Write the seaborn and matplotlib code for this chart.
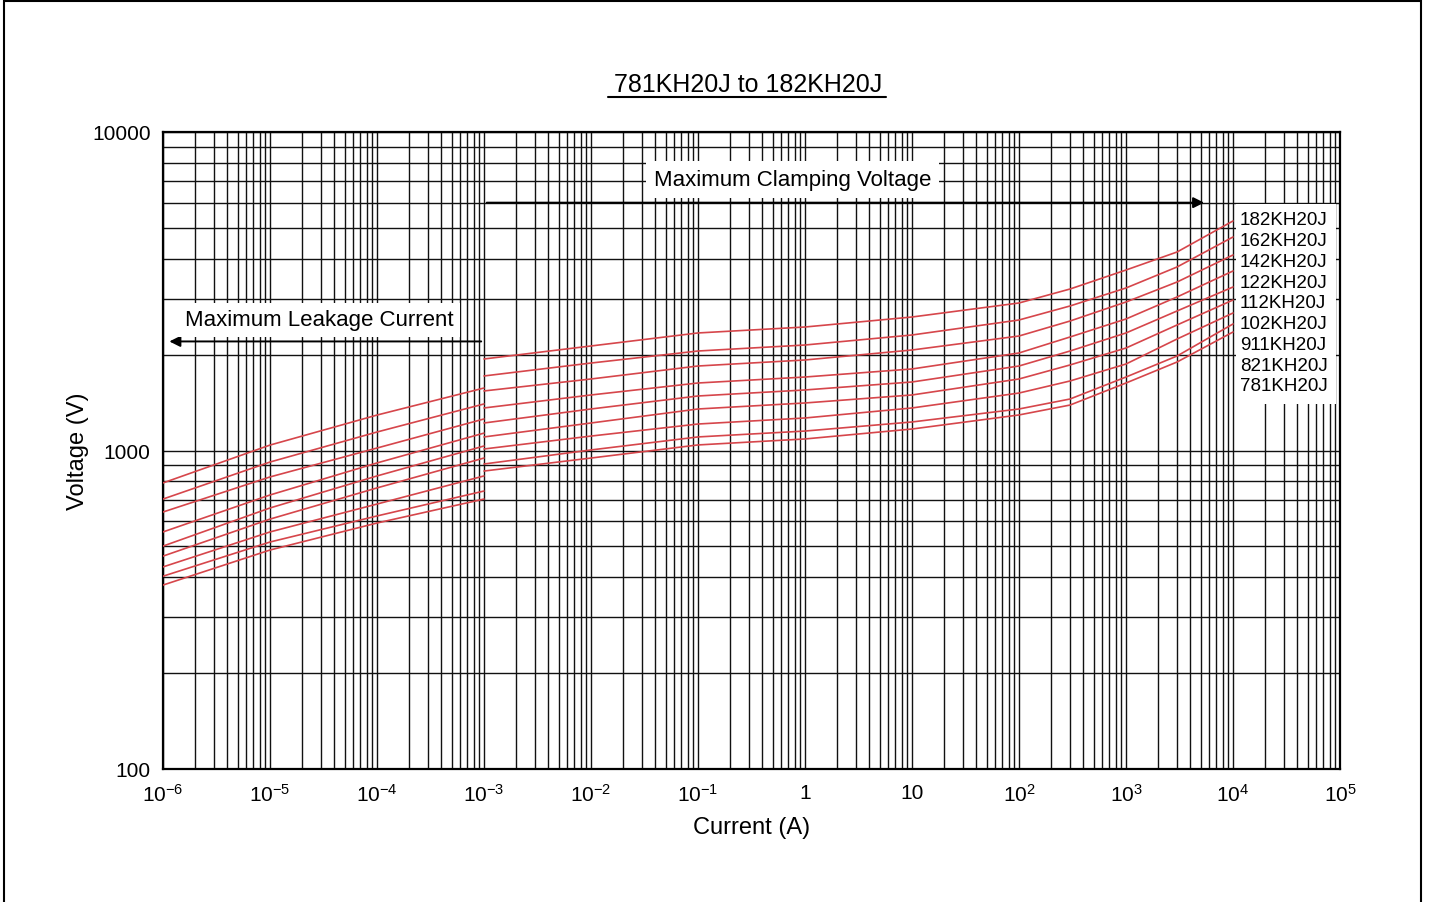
import numpy as np
import pandas as pd
import seaborn as sns
import matplotlib.pyplot as plt
from matplotlib.patches import Rectangle
from matplotlib.lines import Line2D
from matplotlib.ticker import LogLocator, FuncFormatter, FixedLocator, NullFormatter

# Modelos (de arriba hacia abajo)
models = ["182KH20J", "162KH20J", "142KH20J", "122KH20J", "112KH20J",
          "102KH20J", "911KH20J", "821KH20J", "781KH20J"]

# Corriente de fuga maxima (A)
leak_current = [1e-6, 1e-5, 1e-4, 1e-3]
leak_182 = [791, 1040, 1292, 1571]
leak_162 = [704, 920, 1143, 1400]
leak_142 = [641, 826, 1018, 1256]
leak_122 = [555, 725, 914, 1134]
leak_112 = [501, 660, 832, 1033]
leak_102 = [466, 609, 763, 947]
leak_911 = [431, 555, 679, 832]
leak_821 = [403, 516, 623, 746]
leak_781 = [378, 487, 592, 704]

# Tension maxima de recorte
clamp_current = [1e-3, 1e-2, 1e-1, 1, 10, 100, 300, 1000, 3000, 1e4]
clamp_182 = [1938, 2129, 2339, 2442, 2625, 2905, 3214, 3687, 4200, 5256]
clamp_162 = [1714, 1882, 2053, 2144, 2305, 2569, 2843, 3238, 3769, 4681]
clamp_142 = [1538, 1677, 1842, 1924, 2068, 2288, 2550, 2926, 3381, 4110]
clamp_122 = [1360, 1494, 1629, 1701, 1803, 2024, 2272, 2588, 3034, 3661]
clamp_112 = [1220, 1350, 1483, 1549, 1641, 1842, 2053, 2339, 2742, 3261]
clamp_102 = [1103, 1220, 1350, 1410, 1494, 1677, 1856, 2098, 2478, 2968]
clamp_911 = [1011, 1110, 1211, 1265, 1360, 1515, 1653, 1869, 2239, 2702]
clamp_821 = [907, 1004, 1103, 1151, 1229, 1350, 1451, 1701, 1980, 2496]
clamp_781 = [862, 947, 1041, 1087, 1168, 1293, 1389, 1629, 1896, 2355]

x_ticks = [1e-6, 1e-5, 1e-4, 1e-3, 1e-2, 1e-1, 1, 10, 1e2, 1e3, 1e4, 1e5]
y_ticks = [100, 1000, 10000]

leak_all = [leak_182, leak_162, leak_142, leak_122, leak_112,
            leak_102, leak_911, leak_821, leak_781]
clamp_all = [clamp_182, clamp_162, clamp_142, clamp_122, clamp_112,
             clamp_102, clamp_911, clamp_821, clamp_781]

# Armar el DataFrame largo
rows = []
for m, lv, cv in zip(models, leak_all, clamp_all):
    for i, v in zip(leak_current, lv):
        rows.append({"model": m, "seg": m + "_leak", "current": i, "voltage": v})
    for i, v in zip(clamp_current, cv):
        rows.append({"model": m, "seg": m + "_clamp", "current": i, "voltage": v})
df = pd.DataFrame(rows)

sns.set_style("white")
plt.rcParams["font.family"] = ["Liberation Sans", "DejaVu Sans"]
plt.rcParams["mathtext.fontset"] = "custom"
plt.rcParams["mathtext.rm"] = "Liberation Sans"
plt.rcParams["text.color"] = "black"
plt.rcParams["axes.labelcolor"] = "black"
plt.rcParams["xtick.color"] = "black"
plt.rcParams["ytick.color"] = "black"

W, H = 1431, 903
fig = plt.figure(figsize=(W / 100, H / 100), dpi=100)
ax = fig.add_axes([163 / W, 1 - 770 / H, (1340 - 163) / W, (770 - 133) / H])
ax.set_xscale("log")
ax.set_yscale("log")

red = "#d6464b"
sns.lineplot(data=df, x="current", y="voltage", hue="model", units="seg",
             estimator=None, palette=[red] * len(models), legend=False,
             lw=1.2, ax=ax, zorder=3)

ax.set_xlim(1e-6, 1e5)
ax.set_ylim(100, 10000)

ax.xaxis.set_major_locator(FixedLocator(x_ticks))
ax.xaxis.set_minor_locator(LogLocator(base=10, subs=np.arange(2, 10), numticks=100))
ax.yaxis.set_major_locator(FixedLocator(y_ticks))
ax.yaxis.set_minor_locator(LogLocator(base=10, subs=np.arange(2, 10), numticks=100))
ax.xaxis.set_minor_formatter(NullFormatter())
ax.yaxis.set_minor_formatter(NullFormatter())


def fmt_x(v, pos):
    e = int(round(np.log10(v)))
    if e == 0:
        return "1"
    if e == 1:
        return "10"
    return r"$\mathregular{10^{%d}}$" % e


ax.xaxis.set_major_formatter(FuncFormatter(fmt_x))
ax.yaxis.set_major_formatter(FuncFormatter(lambda v, p: "%d" % v))
ax.tick_params(which="both", length=0, labelsize=15, colors="black")
ax.tick_params(axis="x", pad=10)
ax.tick_params(axis="y", pad=9)

ax.set_axisbelow(True)
ax.grid(which="both", color="#111111", lw=1.0)
for s in ax.spines.values():
    s.set_color("black")
    s.set_linewidth(1.6)

ax.set_xlabel("Current (A)", fontsize=17, labelpad=8)
ax.set_ylabel("Voltage (V)", fontsize=17, labelpad=2)

# Flechas y rotulos de regiones
ax.annotate("", xy=(5.7e3, 6000), xytext=(1e-3, 6000),
            arrowprops=dict(arrowstyle="-|>", color="black", lw=1.4, mutation_scale=16),
            zorder=4)
ax.annotate("", xy=(1.08e-6, 2200), xytext=(1e-3, 2200),
            arrowprops=dict(arrowstyle="-|>", color="black", lw=1.4, mutation_scale=16),
            zorder=4)
ax.text(0.77, 7100, "Maximum Clamping Voltage", fontsize=16, ha="center", va="center",
        zorder=5, bbox=dict(boxstyle="square,pad=0.35", fc="white", ec="none"))
ax.text(2.9e-5, 2570, "Maximum Leakage Current", fontsize=16, ha="center", va="center",
        zorder=5, bbox=dict(boxstyle="square,pad=0.3", fc="white", ec="none"))

# Etiquetas de modelos a la derecha
x0 = (1236 - 163) / (1340 - 163)
ax.add_patch(Rectangle((x0, 1 - (405 - 133) / 637), 0.997 - x0, (405 - 205) / 637,
                       transform=ax.transAxes, fc="white", ec="none", zorder=2.5))
for k, m in enumerate(models):
    yp = 221 + k * 20.75
    ax.text((1240 - 163) / 1177, 1 - (yp - 133) / 637, m, transform=ax.transAxes,
            fontsize=13.5, ha="left", va="center", zorder=5)

# Titulo subrayado
fig.text(748 / W, 1 - 85 / H, "781KH20J to 182KH20J", fontsize=18, ha="center", va="center")
fig.add_artist(Line2D([608 / W, 886 / W], [1 - 98 / H, 1 - 98 / H], color="black", lw=1.5))

# Marco de la figura
fig.add_artist(Rectangle((4 / W, -0.01), (1421 - 4) / W, 1 - 2 / H + 0.01,
                         transform=fig.transFigure, fill=False, ec="black", lw=1.5))

fig.savefig("out.png", dpi=100)
